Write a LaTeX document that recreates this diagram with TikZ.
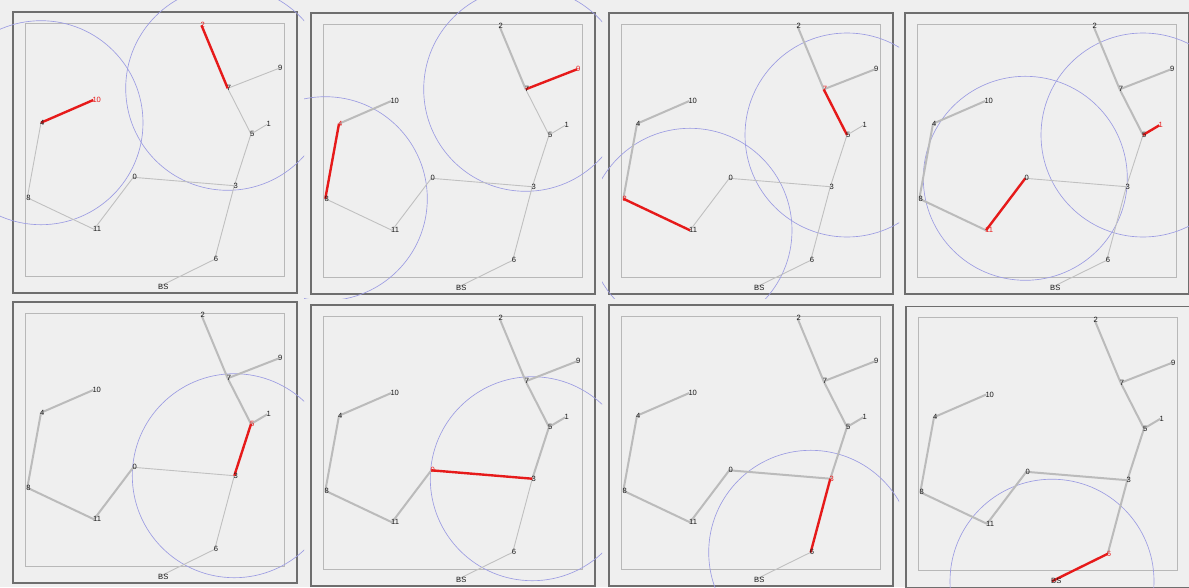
\documentclass[tikz,border=0pt]{standalone}
\usepackage{fontspec}
\setmainfont{Liberation Sans}
\definecolor{bg}{HTML}{EFEFEF}
\definecolor{framedark}{HTML}{6E6E6E}
\definecolor{framelight}{HTML}{B8B8B8}
\definecolor{edgegrey}{HTML}{C0C0C0}
\definecolor{donegrey}{HTML}{BBBBBB}
\definecolor{schedred}{HTML}{E61A1A}
\definecolor{rangeblue}{HTML}{9C9CE2}
\definecolor{labelgrey}{HTML}{1A1A1A}
\tikzset{
  thinedge/.style={draw=edgegrey, line width=0.9pt},
  doneedge/.style={draw=donegrey, line width=2pt},
  rededge/.style={draw=schedred, line width=2.4pt},
  rangecircle/.style={draw=rangeblue, line width=0.65pt},
  lbl/.style={anchor=west, inner sep=0pt, xshift=-1pt, font=\fontsize{7.6}{9}\selectfont, text=labelgrey},
  outerframe/.style={draw=framedark, line width=1.4pt},
  innerframe/.style={draw=framelight, line width=1pt},
}
% #1 step, #2 ox, #3 oy, #4 #5 #6 #7 clip box
\newcommand{\drawpanel}[7]{%
  \begin{scope}
    \clip (#4,#5) rectangle (#6,#7);
    \draw[outerframe] (#2-12,#3-11) rectangle (#2+272,#3+270);
    \draw[innerframe] (#2,#3) rectangle (#2+259,#3+253);
    \foreach \n/\x/\y in {0/108.3/154.3, 1/242.3/101.3, 2/176.5/2.3, 3/209.3/162.7,
        4/16/99.7, 5/226/111, 6/189.7/236.3, 7/202.7/65.3, 8/2.3/174.7,
        9/254/45.3, 10/68.3/77, 11/69/206.3, BS/134/263.7}
      {\coordinate (p#1n\n) at (#2+\x,#3+\y);}
    \foreach \a/\b/\s in {2/7/1, 10/4/1, 4/8/2, 9/7/2, 8/11/3, 7/5/3,
        11/0/4, 1/5/4, 5/3/5, 0/3/6, 3/6/7, 6/BS/8}
      {\ifnum\s=#1 \draw[rangecircle] (p#1n\b) circle[radius=102];\fi}
    \foreach \a/\b/\s in {2/7/1, 10/4/1, 4/8/2, 9/7/2, 8/11/3, 7/5/3,
        11/0/4, 1/5/4, 5/3/5, 0/3/6, 3/6/7, 6/BS/8}
      {\ifnum\s<#1 \draw[doneedge] (p#1n\a) -- (p#1n\b);\else
         \ifnum\s>#1 \draw[thinedge] (p#1n\a) -- (p#1n\b);\fi\fi}
    \foreach \a/\b/\s in {2/7/1, 10/4/1, 4/8/2, 9/7/2, 8/11/3, 7/5/3,
        11/0/4, 1/5/4, 5/3/5, 0/3/6, 3/6/7, 6/BS/8}
      {\ifnum\s=#1 \draw[rededge] (p#1n\a) -- (p#1n\b);\fi}
    \foreach \n/\t in {0/6, 1/4, 2/1, 3/7, 4/2, 5/5, 6/8, 7/3, 8/3, 9/2, 10/1, 11/4, BS/0}
      {\ifnum\t=#1
         \node[lbl, text=schedred] (l#1n\n) at (p#1n\n) {\n};
       \else
         \node[lbl] (l#1n\n) at (p#1n\n) {\n};
       \fi}
  \end{scope}%
}
\begin{document}
\begin{tikzpicture}[x=1pt,y=-1pt]
  \useasboundingbox (0,0) rectangle (1189,587);
  \fill[bg] (0,0) rectangle (1189,587);
  \drawpanel{1}{25}{23}{0}{0}{304}{298}
  \drawpanel{2}{323}{24}{304}{0}{602}{298}
  \drawpanel{3}{621}{24}{602}{0}{899}{298}
  \drawpanel{4}{917}{24}{899}{0}{1189}{298}
  \drawpanel{5}{25}{313}{0}{298}{304}{587}
  \drawpanel{6}{323}{316}{304}{298}{602}{587}
  \drawpanel{7}{621}{316}{602}{298}{899}{587}
  \drawpanel{8}{918}{317.5}{899}{298}{1189}{587}
\end{tikzpicture}
\end{document}
